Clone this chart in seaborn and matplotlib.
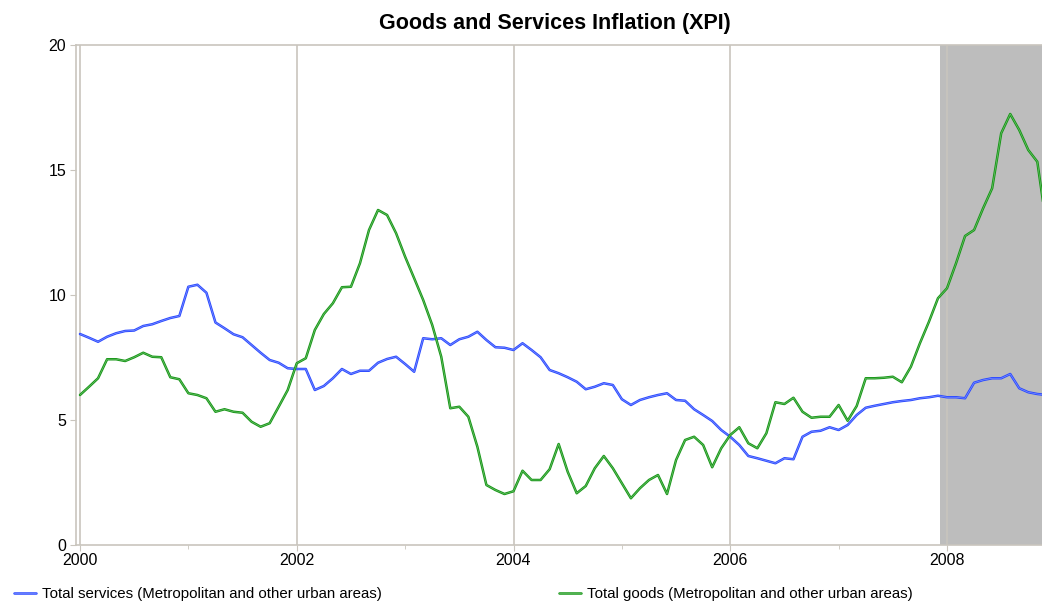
import numpy as np
import pandas as pd
import matplotlib
matplotlib.use("Agg")
import matplotlib.pyplot as plt
import matplotlib.patheffects as pe
from matplotlib.ticker import MultipleLocator
import seaborn as sns

# ---------------- data ----------------
title = "Goods and Services Inflation (XPI)"
services_label = "Total services (Metropolitan and other urban areas)"
goods_label = "Total goods (Metropolitan and other urban areas)"

start_year = 2000
services = [
    8.44, 8.29, 8.13, 8.33, 8.47, 8.56, 8.58, 8.76, 8.83, 8.96, 9.08, 9.16,
    10.33, 10.41, 10.09, 8.90, 8.67, 8.43, 8.31, 8.00, 7.69, 7.40, 7.29, 7.07,
    7.04, 7.04, 6.20, 6.36, 6.67, 7.04, 6.84, 6.97, 6.97, 7.29, 7.44, 7.53,
    7.24, 6.93, 8.27, 8.23, 8.27, 8.00, 8.23, 8.33, 8.53, 8.20, 7.91, 7.89,
    7.80, 8.07, 7.80, 7.51, 7.00, 6.87, 6.71, 6.53, 6.23, 6.33, 6.47, 6.40,
    5.83, 5.60, 5.80, 5.91, 6.00, 6.07, 5.80, 5.77, 5.43, 5.20, 4.96, 4.60,
    4.33, 4.00, 3.56, 3.47, 3.37, 3.27, 3.47, 3.43, 4.33, 4.53, 4.57, 4.71,
    4.60, 4.80, 5.20, 5.49, 5.57, 5.64, 5.71, 5.76, 5.80, 5.87, 5.91, 5.97,
    5.91, 5.91, 5.87, 6.49, 6.60, 6.67, 6.67, 6.84, 6.27, 6.11, 6.04, 6.00,
]
goods = [
    6.00, 6.33, 6.67, 7.43, 7.43, 7.36, 7.51, 7.69, 7.53, 7.51, 6.71, 6.63,
    6.07, 6.00, 5.87, 5.33, 5.43, 5.33, 5.29, 4.93, 4.73, 4.87, 5.53, 6.20,
    7.27, 7.47, 8.60, 9.24, 9.67, 10.31, 10.33, 11.27, 12.60, 13.40, 13.20, 12.47,
    11.53, 10.67, 9.80, 8.80, 7.53, 5.47, 5.53, 5.13, 3.93, 2.40, 2.20, 2.04,
    2.15, 2.97, 2.60, 2.60, 3.03, 4.04, 2.93, 2.07, 2.36, 3.07, 3.56, 3.07,
    2.47, 1.87, 2.27, 2.60, 2.80, 2.04, 3.40, 4.20, 4.33, 4.00, 3.11, 3.87,
    4.40, 4.71, 4.07, 3.87, 4.47, 5.71, 5.64, 5.89, 5.33, 5.09, 5.13, 5.13,
    5.60, 4.97, 5.56, 6.67, 6.67, 6.69, 6.73, 6.51, 7.13, 8.07, 8.93, 9.87,
    10.27, 11.27, 12.36, 12.60, 13.47, 14.27, 16.47, 17.24, 16.60, 15.80, 15.33, 12.80,
]
recession_start = 2007.935
x_ticks = [2000, 2002, 2004, 2006, 2008]
y_ticks = [0, 5, 10, 15, 20]

# ---------------- style ----------------
sns.set_style("white")
plt.rcParams["font.family"] = ["Liberation Sans", "DejaVu Sans"]
plt.rcParams["text.color"] = "black"
plt.rcParams["xtick.labelcolor"] = "black"
plt.rcParams["ytick.labelcolor"] = "black"

n = len(services)
dates = start_year + np.arange(n) / 12.0
df = pd.DataFrame({"date": dates, "services": services, "goods": goods})

W, H = 1042, 602
fig = plt.figure(figsize=(W / 100, H / 100), dpi=100)
ax = fig.add_axes([76 / W, 57 / H, (W - 76) / W, 500 / H])

blue = "#2a48ff"
blue_light = "#7d93ff"
green = "#169616"
green_light = "#6cc06c"

ax.axvspan(recession_start, 2010, color="#bdbdbd", zorder=0.5, lw=0)

sns.lineplot(data=df, x="date", y="services", ax=ax, color=blue_light,
             linewidth=0.5, label=services_label, zorder=3,
             path_effects=[pe.Stroke(linewidth=1.8, foreground=blue), pe.Normal()])
sns.lineplot(data=df, x="date", y="goods", ax=ax, color=green_light,
             linewidth=0.5, label=goods_label, zorder=3,
             path_effects=[pe.Stroke(linewidth=1.8, foreground=green), pe.Normal()])

px_per_year = (947 - 80) / 8
ax.set_xlim(2000 - 4 / px_per_year, 2000 + (W - 80) / px_per_year)
ax.set_ylim(0, 20)
ax.set_xticks(x_ticks)
ax.set_xticklabels([str(t) for t in x_ticks])
ax.xaxis.set_minor_locator(MultipleLocator(1))
ax.set_yticks(y_ticks)
ax.set_xlabel("")
ax.set_ylabel("")

grid_c = "#c9c5bd"
ax.grid(axis="x", which="major", color=grid_c, linewidth=1.2, zorder=1.5)
ax.grid(axis="y", visible=False)
for s in ["left", "bottom", "top"]:
    ax.spines[s].set_visible(True)
    ax.spines[s].set_color(grid_c)
    ax.spines[s].set_linewidth(1.2)
ax.spines["right"].set_visible(False)

ax.tick_params(axis="x", which="major", length=4, color=grid_c, labelsize=11.5,
               pad=2, bottom=True, labelcolor="black")
ax.tick_params(axis="x", which="minor", length=3, color=grid_c, bottom=True)
ax.tick_params(axis="y", which="major", length=4, color=grid_c, labelsize=11.5,
               pad=3, left=True, labelcolor="black")

fig.text(555 / W, 1 - 23 / H, title, ha="center", va="center",
         fontsize=15.5, fontweight="bold", color="black")

handles, labels = ax.get_legend_handles_labels()
ax.get_legend().remove()
common = dict(frameon=False, fontsize=10.8, handlelength=1.45, handletextpad=0.4,
              borderpad=0, borderaxespad=0, loc="center left", labelcolor="black")
fig.legend([handles[0]], [labels[0]], bbox_to_anchor=(14 / W, 1 - 594 / H), **common)
fig.legend([handles[1]], [labels[1]], bbox_to_anchor=(559 / W, 1 - 594 / H), **common)

fig.savefig("out.png", dpi=100)
